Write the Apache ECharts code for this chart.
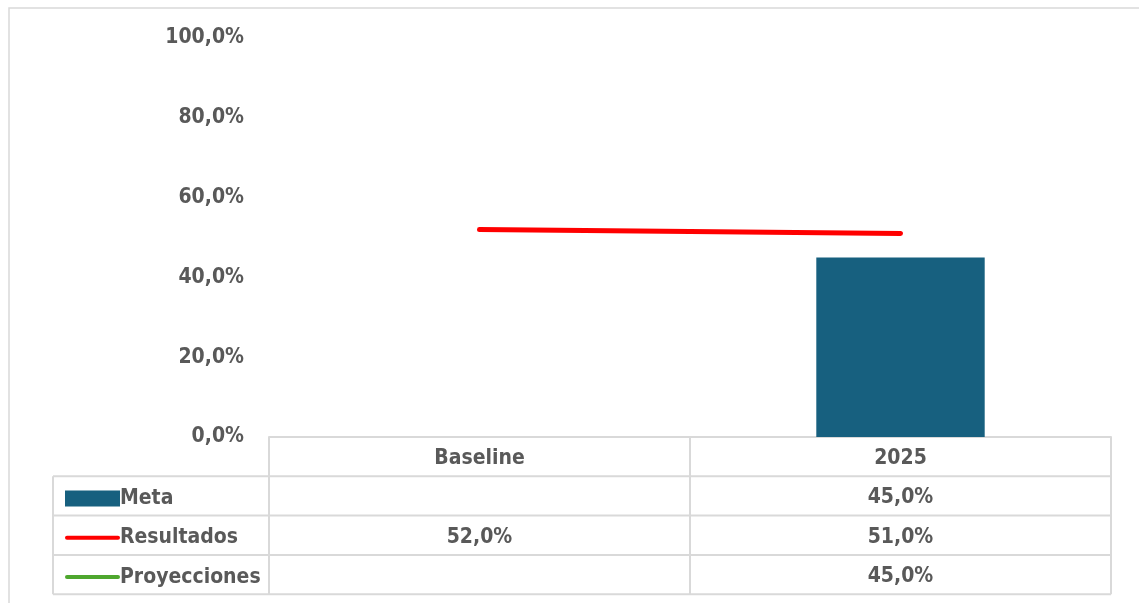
<!DOCTYPE html>
<html>
<head>
<meta charset="utf-8">
<script src="https://cdn.jsdelivr.net/npm/echarts@6/dist/echarts.min.js"></script>
<style>
  html, body { margin: 0; padding: 0; background: #fff; }
  #main { width: 1139px; height: 603px; }
</style>
</head>
<body>
<div id="main"></div>
<script>
var categories = ["Baseline", "2025"];
var meta = [null, 45.0];
var resultados = [52.0, 51.0];
var proyecciones = [null, 45.0];
var rowNames = ["Meta", "Resultados", "Proyecciones"];

var FONT = "'Liberation Sans Narrow', 'Arial Narrow', 'DejaVu Sans Condensed', sans-serif";
var FSIZE = 21;
var TXT = "#595959";
var BORDER = "#d9d9d9";

// layout of plot / data table
var gridLeft = 269, gridRightX = 1111, gridTop = 38, axisY = 437;
var rowH = 39.3, tableLeft = 53;

function pct(v) {
  if (v === null || v === undefined) return " ";
  return v.toFixed(1).replace(".", ",") + "%";
}

var lineIcon = "path://M2,0L53,0A2,2 0 0 1 53,4L2,4A2,2 0 0 1 2,0Z";
var icons = ["rect", lineIcon, lineIcon];

var chart = echarts.init(document.getElementById("main"));

var graphics = [
  // outer chart frame
  { type: "rect", shape: { x: 9, y: 8, width: 1300, height: 800 }, style: { fill: null, stroke: BORDER, lineWidth: 1.5 }, silent: true },
  // legend column left border
  { type: "line", shape: { x1: tableLeft, y1: axisY + rowH, x2: tableLeft, y2: axisY + rowH * 4 }, style: { stroke: BORDER, lineWidth: 2 }, silent: true }
];
for (var r = 1; r <= 4; r++) {
  graphics.push({
    type: "line",
    shape: { x1: tableLeft, y1: axisY + rowH * r, x2: gridRightX, y2: axisY + rowH * r },
    style: { stroke: BORDER, lineWidth: 2 },
    silent: true
  });
}

// one legend per table row so each key sits in its own row
var legends = rowNames.map(function (name, i) {
  return {
    orient: "vertical",
    left: 60,
    top: axisY + rowH * (i + 1) + rowH / 2 - 13,
    itemWidth: 55,
    itemHeight: 16,
    itemGap: 0,
    symbolKeepAspect: true,
    textStyle: { color: TXT, fontFamily: FONT, fontWeight: "bold", fontSize: FSIZE, padding: [0, 0, 0, -5] },
    data: [{ name: name, icon: icons[i] }]
  };
});

chart.setOption({
  animation: false,
  backgroundColor: "#fff",
  grid: { left: gridLeft, right: 1139 - gridRightX, top: gridTop, bottom: 603 - axisY },
  legend: legends,
  xAxis: {
    type: "category",
    data: categories,
    axisLine: { show: true, lineStyle: { color: BORDER, width: 2 } },
    axisTick: { show: true, alignWithLabel: false, length: rowH * 4, lineStyle: { color: BORDER, width: 2 } },
    axisLabel: {
      margin: 2,
      color: TXT,
      fontFamily: FONT,
      fontWeight: "bold",
      fontSize: FSIZE,
      lineHeight: rowH,
      formatter: function (v, i) {
        return [v, pct(meta[i]), pct(resultados[i]), pct(proyecciones[i])].join("\n");
      }
    }
  },
  yAxis: {
    type: "value",
    min: 0,
    max: 100,
    interval: 20,
    axisLine: { show: false },
    axisTick: { show: false },
    splitLine: { show: false },
    axisLabel: {
      margin: 25,
      color: TXT,
      fontFamily: FONT,
      fontWeight: "bold",
      fontSize: FSIZE,
      padding: [6, 0, 0, 0],
      formatter: function (v) { return pct(v); }
    }
  },
  series: [
    {
      name: "Meta",
      type: "bar",
      data: meta,
      barWidth: "40%",
      itemStyle: { color: "#17607f" }
    },
    {
      name: "Resultados",
      type: "line",
      data: resultados,
      showSymbol: false,
      lineStyle: { color: "#ff0000", width: 5, cap: "round" },
      itemStyle: { color: "#ff0000" }
    },
    {
      name: "Proyecciones",
      type: "line",
      data: proyecciones,
      showSymbol: false,
      lineStyle: { color: "#4ea72e", width: 5, cap: "round" },
      itemStyle: { color: "#4ea72e" }
    }
  ],
  graphic: graphics
});
</script>
</body>
</html>
